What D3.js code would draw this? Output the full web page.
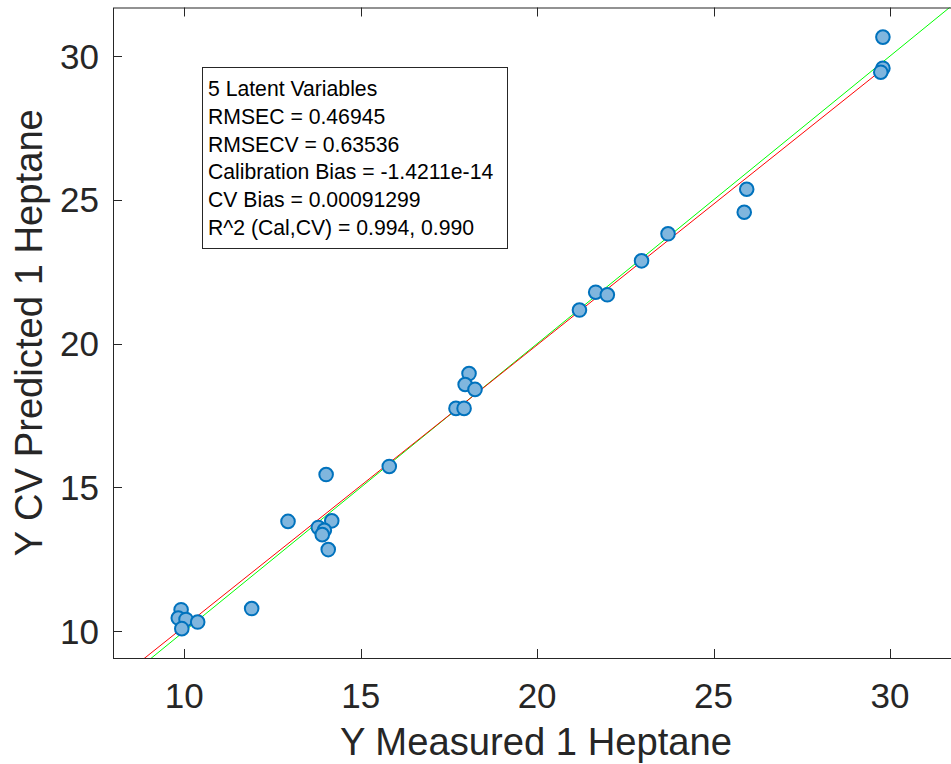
<!DOCTYPE html>
<html lang="en">
<head>
<meta charset="UTF-8">
<script src="https://d3js.org/d3.v7.min.js"></script>
<style>
    body {
        margin: 0;
        background: #fff;
        font-family: "Liberation Sans", Arial, Helvetica, sans-serif;
    }
    .tick-label { font-size: 35px; fill: #262626; }
    .axis-label { font-size: 38.2px; fill: #262626; }
    .stats-text { font-size: 21.2px; fill: #000; }
</style>
</head>
<body>
<div id="chart"></div>
<script>
    // measured vs CV predicted (Heptane)
    const measured = [29.80, 29.80, 29.74, 25.94, 25.87, 23.71, 22.96, 21.66, 21.99, 21.20,
                      18.07, 17.96, 18.24, 17.70, 17.93, 15.81, 14.02, 12.94, 14.18, 13.80,
                      13.97, 13.91, 14.08, 11.91, 9.91, 9.83, 10.05, 10.38, 9.93];
    const predicted = [30.66, 29.58, 29.44, 25.37, 24.57, 23.82, 22.88, 21.79, 21.70, 21.17,
                       18.96, 18.58, 18.41, 17.75, 17.75, 15.73, 15.45, 13.82, 13.84, 13.61,
                       13.51, 13.36, 12.84, 10.79, 10.75, 10.46, 10.41, 10.32, 10.09];

    const xTicks = [10, 15, 20, 25, 30];
    const yTicks = [10, 15, 20, 25, 30];
    const xDomain = [7.98, 31.73];
    const yDomain = [9.07, 31.69];

    // fit line (red) and 1:1 line (green)
    const fitSlope = 0.979;
    const fitIntercept = 0.376;
    const fitRange = [7.5, 29.8];

    const statsLines = [
        "5 Latent Variables",
        "RMSEC = 0.46945",
        "RMSECV = 0.63536",
        "Calibration Bias = -1.4211e-14",
        "CV Bias = 0.00091299",
        "R^2 (Cal,CV) = 0.994, 0.990"
    ];

    const W = 951, H = 764;
    const plot = {left: 113, right: 951, top: 7.5, bottom: 658};

    const svg = d3.select("#chart").append("svg")
        .attr("width", W)
        .attr("height", H);

    const x = d3.scaleLinear().domain(xDomain).range([plot.left, plot.right]);
    const y = d3.scaleLinear().domain(yDomain).range([plot.bottom, plot.top]);

    svg.append("clipPath").attr("id", "clip")
        .append("rect")
        .attr("x", plot.left).attr("y", plot.top)
        .attr("width", plot.right - plot.left)
        .attr("height", plot.bottom - plot.top);

    const g = svg.append("g").attr("clip-path", "url(#clip)");

    // 1:1 line
    g.append("line")
        .attr("x1", x(xDomain[0])).attr("y1", y(xDomain[0]))
        .attr("x2", x(xDomain[1])).attr("y2", y(xDomain[1]))
        .attr("stroke", "#00ff00")
        .attr("stroke-width", 1);

    // regression line
    g.append("line")
        .attr("x1", x(fitRange[0])).attr("y1", y(fitSlope * fitRange[0] + fitIntercept))
        .attr("x2", x(fitRange[1])).attr("y2", y(fitSlope * fitRange[1] + fitIntercept))
        .attr("stroke", "#ff0000")
        .attr("stroke-width", 1);

    const pts = measured.map((m, i) => ({m, p: predicted[i]}));

    g.selectAll(".pt")
        .data(pts)
        .enter()
        .append("circle")
        .attr("class", "pt")
        .attr("cx", d => x(d.m))
        .attr("cy", d => y(d.p))
        .attr("r", 6.8)
        .attr("fill", "#80b6de")
        .attr("stroke", "#0072bd")
        .attr("stroke-width", 2);

    // box frame
    svg.append("rect")
        .attr("x", plot.left + 0.5).attr("y", plot.top + 0.5)
        .attr("width", plot.right - plot.left)
        .attr("height", plot.bottom - plot.top)
        .attr("fill", "none")
        .attr("stroke", "#262626")
        .attr("stroke-width", 1);

    const tickLen = 9;
    // x ticks (bottom + top, pointing inward)
    xTicks.forEach(t => {
        const px = Math.round(x(t)) + 0.5;
        svg.append("line")
            .attr("x1", px).attr("x2", px)
            .attr("y1", plot.bottom).attr("y2", plot.bottom - tickLen)
            .attr("stroke", "#262626");
        svg.append("line")
            .attr("x1", px).attr("x2", px)
            .attr("y1", plot.top).attr("y2", plot.top + tickLen)
            .attr("stroke", "#262626");
        svg.append("text")
            .attr("class", "tick-label")
            .attr("x", x(t))
            .attr("y", 708)
            .attr("text-anchor", "middle")
            .text(t);
    });

    yTicks.forEach(t => {
        const py = Math.round(y(t)) + 0.5;
        svg.append("line")
            .attr("x1", plot.left).attr("x2", plot.left + tickLen)
            .attr("y1", py).attr("y2", py)
            .attr("stroke", "#262626");
        svg.append("text")
            .attr("class", "tick-label")
            .attr("x", 99)
            .attr("y", y(t))
            .attr("dy", "0.36em")
            .attr("text-anchor", "end")
            .text(t);
    });

    // axis labels
    svg.append("text")
        .attr("class", "axis-label")
        .attr("x", 536)
        .attr("y", 755)
        .attr("text-anchor", "middle")
        .text("Y Measured 1 Heptane");

    svg.append("text")
        .attr("class", "axis-label")
        .attr("transform", `translate(42,${(plot.top + plot.bottom) / 2}) rotate(-90)`)
        .attr("text-anchor", "middle")
        .text("Y CV Predicted 1 Heptane");

    // stats box
    const box = svg.append("g");
    box.append("rect")
        .attr("x", 202.5).attr("y", 67.5)
        .attr("width", 305).attr("height", 181)
        .attr("fill", "#fff")
        .attr("stroke", "#262626")
        .attr("stroke-width", 1);

    box.selectAll(".stats-text")
        .data(statsLines)
        .enter()
        .append("text")
        .attr("class", "stats-text")
        .attr("x", 208)
        .attr("y", (d, i) => 96 + i * 27.8)
        .text(d => d);
</script>
</body>
</html>
